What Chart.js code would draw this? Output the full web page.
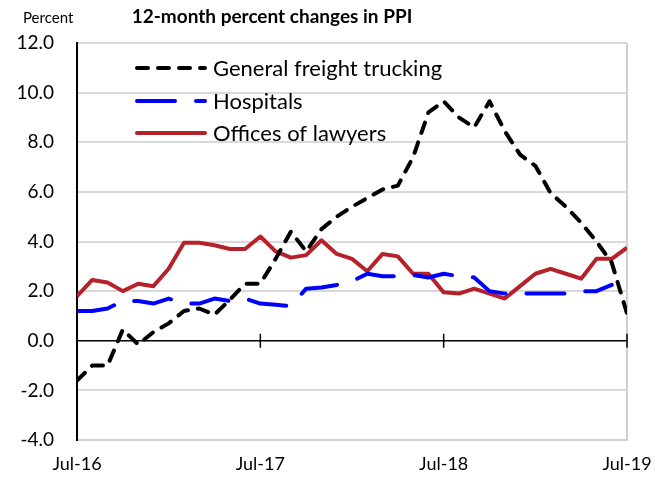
<!DOCTYPE html>
<html>
<head>
  <title>12-month percent changes in PPI</title>
  <script src="https://cdn.jsdelivr.net/npm/chart.js"></script>
  <style>
    html, body { margin: 0; padding: 0; background: #fff; }
    #wrap { width: 671px; height: 480px; }
  </style>
</head>
<body>
  <div id="wrap"><canvas id="ppiChart" width="671" height="480"></canvas></div>

  <script>
    // monthly, Jul-16 through Jul-19
    const months = ['Jul-16','Aug-16','Sep-16','Oct-16','Nov-16','Dec-16','Jan-17','Feb-17','Mar-17','Apr-17','May-17','Jun-17',
                    'Jul-17','Aug-17','Sep-17','Oct-17','Nov-17','Dec-17','Jan-18','Feb-18','Mar-18','Apr-18','May-18','Jun-18',
                    'Jul-18','Aug-18','Sep-18','Oct-18','Nov-18','Dec-18','Jan-19','Feb-19','Mar-19','Apr-19','May-19','Jun-19','Jul-19'];

    const trucking = [-1.6, -1.0, -1.0, 0.45, -0.15, 0.35, 0.7, 1.2, 1.3, 1.05, 1.65, 2.3,
                      2.3, 3.3, 4.4, 3.6, 4.5, 5.0, 5.4, 5.75, 6.1, 6.25, 7.4, 9.2,
                      9.65, 9.0, 8.6, 9.65, 8.45, 7.5, 7.05, 5.95, 5.4, 4.75, 4.0, 3.15, 1.1];

    const hospitals = [1.2, 1.2, 1.3, 1.6, 1.6, 1.5, 1.7, 1.5, 1.5, 1.7, 1.6, 1.7,
                       1.5, 1.45, 1.4, 2.1, 2.15, 2.25, 2.4, 2.7, 2.6, 2.6, 2.65, 2.55,
                       2.7, 2.6, 2.55, 2.0, 1.9, 1.9, 1.9, 1.9, 1.9, 2.0, 2.0, 2.25, null];

    const lawyers = [1.8, 2.45, 2.35, 2.0, 2.3, 2.2, 2.9, 3.95, 3.95, 3.85, 3.7, 3.7,
                     4.2, 3.6, 3.35, 3.45, 4.05, 3.5, 3.3, 2.8, 3.5, 3.4, 2.7, 2.7,
                     1.95, 1.9, 2.1, 1.9, 1.7, 2.2, 2.7, 2.9, 2.7, 2.5, 3.3, 3.3, 3.75];

    const yTicks = [-4, -2, 0, 2, 4, 6, 8, 10, 12];
    const xTickLabels = { 0: 'Jul-16', 12: 'Jul-17', 24: 'Jul-18', 36: 'Jul-19' };

    const FONT = 'Lato, "Open Sans", sans-serif';
    const TRUCK_DASH = [11, 10];
    const HOSP_DASH = [38, 21];

    const toPoints = arr => arr.map((v, i) => ({ x: i, y: v }));

    // title, unit label, legend box and the tick marks on the zero line
    const decorations = {
      id: 'decorations',
      afterDatasetsDraw(chart) {
        const ctx = chart.ctx;
        const xs = chart.scales.x, ys = chart.scales.y;
        const zeroY = ys.getPixelForValue(0);
        ctx.save();
        ctx.strokeStyle = '#000';
        ctx.lineWidth = 1.5;
        [12, 24, 36].forEach(v => {
          const px = xs.getPixelForValue(v);
          ctx.beginPath();
          ctx.moveTo(px, zeroY - 7);
          ctx.lineTo(px, zeroY + 7);
          ctx.stroke();
        });

        ctx.fillStyle = '#000';
        ctx.textBaseline = 'middle';
        ctx.font = 'bold 19px ' + FONT;
        ctx.textAlign = 'center';
        ctx.fillText('12-month percent changes in PPI', 272, 17);
        ctx.font = '15px ' + FONT;
        ctx.textAlign = 'left';
        ctx.fillText('Percent', 23, 18);

        const items = [
          { label: 'General freight trucking', color: '#000', dash: TRUCK_DASH, y: 68 },
          { label: 'Hospitals', color: '#0000ff', dash: HOSP_DASH, y: 101 },
          { label: 'Offices of lawyers', color: '#b5222a', dash: [], y: 133 }
        ];
        ctx.font = '22px ' + FONT;
        items.forEach(it => {
          ctx.beginPath();
          ctx.setLineDash(it.dash);
          ctx.lineCap = 'round';
          ctx.lineWidth = 4;
          ctx.strokeStyle = it.color;
          ctx.moveTo(137, it.y);
          ctx.lineTo(205, it.y);
          ctx.stroke();
          ctx.setLineDash([]);
          ctx.fillText(it.label, 213, it.y + 1);
        });
        ctx.restore();
      }
    };

    new Chart(document.getElementById('ppiChart'), {
      type: 'line',
      data: {
        datasets: [
          {
            label: 'General freight trucking',
            data: toPoints(trucking),
            borderColor: '#000',
            borderWidth: 4,
            borderDash: TRUCK_DASH,
            borderCapStyle: 'round',
            borderJoinStyle: 'round',
            pointRadius: 0,
            tension: 0
          },
          {
            label: 'Hospitals',
            data: toPoints(hospitals),
            borderColor: '#0000ff',
            borderWidth: 4,
            borderDash: HOSP_DASH,
            borderCapStyle: 'round',
            borderJoinStyle: 'round',
            pointRadius: 0,
            tension: 0
          },
          {
            label: 'Offices of lawyers',
            data: toPoints(lawyers),
            borderColor: '#b5222a',
            borderWidth: 4,
            borderJoinStyle: 'round',
            pointRadius: 0,
            tension: 0
          }
        ]
      },
      options: {
        responsive: false,
        animation: false,
        layout: { padding: { top: 43, right: 44, left: 0, bottom: 0 } },
        plugins: {
          legend: { display: false },
          title: { display: false },
          tooltip: { enabled: false }
        },
        scales: {
          x: {
            type: 'linear',
            min: 0,
            max: 36,
            afterFit: s => { s.height = 40; },
            afterBuildTicks: s => { s.ticks = [0, 12, 24, 36].map(v => ({ value: v })); },
            ticks: {
              callback: v => xTickLabels[v] || '',
              color: '#000',
              font: { family: FONT, size: 18 },
              padding: 13,
              maxRotation: 0,
              autoSkip: false
            },
            grid: {
              drawTicks: false,
              color: ctx => (ctx.tick && ctx.tick.value === 36 ? '#d0d0d0' : 'rgba(0,0,0,0)'),
              lineWidth: 2
            },
            border: { color: '#d0d0d0', width: 2 }
          },
          y: {
            min: -4,
            max: 12,
            afterFit: s => { s.width = 77; },
            afterBuildTicks: s => { s.ticks = yTicks.map(v => ({ value: v })); },
            ticks: {
              callback: v => v.toFixed(1),
              color: '#000',
              font: { family: FONT, size: 19 },
              padding: 23
            },
            grid: {
              drawTicks: false,
              color: ctx => (ctx.tick && ctx.tick.value === 0 ? '#000' : '#d9d9d9'),
              lineWidth: ctx => (ctx.tick && ctx.tick.value === 0 ? 1.5 : 2)
            },
            border: { color: '#000', width: 2 }
          }
        }
      },
      plugins: [decorations]
    });
  </script>
</body>
</html>
